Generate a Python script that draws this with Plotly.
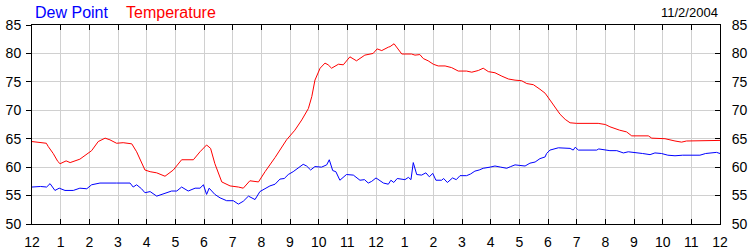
import plotly.graph_objects as go

temp_hours = [0.0, 0.3, 0.5, 0.57, 0.74, 0.9, 0.98, 1.19, 1.33, 1.67, 1.85, 2.08, 2.31, 2.55, 2.72, 2.95,
              3.18, 3.48, 3.65, 3.94, 4.12, 4.35, 4.64, 4.93, 5.22, 5.63, 5.86, 6.09, 6.23, 6.38, 6.62,
              6.91, 7.2, 7.37, 7.6, 7.9, 8.13, 8.3, 8.48, 8.88, 9.17, 9.41, 9.64, 9.76, 9.87, 10.05,
              10.22, 10.33, 10.45, 10.69, 10.86, 11.09, 11.32, 11.61, 11.9, 12.04, 12.2, 12.43, 12.49,
              12.63, 12.75, 12.9, 13.24, 13.36, 13.53, 13.65, 13.82, 14.0, 14.17, 14.41, 14.64, 14.87,
              15.16, 15.34, 15.57, 15.74, 15.92, 16.15, 16.39, 16.62, 16.85, 17.08, 17.26, 17.49, 17.72,
              17.9, 18.07, 18.25, 18.42, 18.6, 18.77, 19.0, 19.75, 20.0, 20.16, 20.5, 20.74, 20.92,
              21.5, 21.62, 22.08, 22.43, 22.66, 22.83, 23.36, 23.5, 24.0]
temp_values = [64.5, 64.4, 64.2, 63.6, 62.4, 61.0, 60.6, 61.1, 60.8, 61.4, 62.1, 62.9, 64.5, 65.1, 64.8, 64.2,
               64.3, 64.1, 62.7, 59.5, 59.2, 59.0, 58.4, 59.5, 61.3, 61.3, 62.7, 63.9, 63.3, 60.6, 57.4,
               56.7, 56.5, 56.3, 57.6, 57.4, 59.2, 60.4, 61.7, 64.8, 66.5, 68.3, 70.3, 72.4, 75.3, 77.4,
               78.3, 78.0, 77.4, 78.1, 78.0, 79.4, 78.7, 79.7, 80.0, 80.8, 80.5, 81.1, 81.2,
               81.7, 80.9, 79.9, 79.9, 79.7, 79.8, 79.1, 78.7, 78.1, 77.8, 77.8, 77.5, 76.9,
               76.9, 76.7, 77.0, 77.4, 76.8, 76.6, 76.0, 75.5, 75.3, 75.2, 74.7, 74.5, 73.7,
               73.0, 71.8, 70.6, 69.3, 68.4, 67.8, 67.7, 67.7, 67.5, 67.1, 66.5, 66.2, 65.5,
               65.5, 65.1, 65.0, 64.6, 64.4, 64.6, 64.6, 64.7, 64.7]

dew_hours = [0.0, 0.3, 0.51, 0.63, 0.8, 0.95, 1.15, 1.44, 1.67, 1.91, 2.08, 2.37, 2.95, 3.42, 3.53, 3.65,
             3.82, 3.94, 4.12, 4.35, 4.64, 4.87, 5.05, 5.22, 5.45, 5.69, 5.86, 5.98, 6.09, 6.18, 6.38,
             6.56, 6.79, 7.02, 7.2, 7.37, 7.55, 7.78, 7.95, 8.18, 8.3, 8.48, 8.65, 8.8, 8.94, 9.11,
             9.29, 9.46, 9.58, 9.72, 9.87, 10.1, 10.28, 10.37, 10.49, 10.6, 10.74, 10.97, 11.21, 11.44,
             11.6, 11.73, 11.85, 12.0, 12.26, 12.43, 12.52, 12.62, 12.74, 13.01, 13.13, 13.22, 13.3,
             13.42, 13.59, 13.74, 13.86, 13.98, 14.09, 14.29, 14.36, 14.49, 14.67, 14.8, 14.93, 15.16,
             15.3, 15.45, 15.6, 15.74, 15.98, 16.15, 16.35, 16.56, 16.7, 16.85, 17.02, 17.2, 17.37,
             17.55, 17.72, 17.9, 17.95, 18.07, 18.36, 18.6, 18.77, 18.88, 18.95, 19.06, 19.7, 19.77,
             20.16, 20.4, 20.63, 20.8, 21.03, 21.3, 21.56, 21.73, 21.96, 22.18, 22.43, 22.7, 23.3,
             23.5, 23.88, 24.0]
dew_values = [56.5, 56.6, 56.5, 57.1, 55.9, 56.3, 55.9, 55.9, 56.3, 56.2, 56.9, 57.2, 57.2, 57.2, 56.5, 56.9,
              56.2, 55.5, 55.7, 54.9, 55.4, 55.8, 55.8, 56.5, 55.8, 56.3, 56.3, 56.9, 55.2, 56.3, 55.2,
              54.6, 54.1, 54.1, 53.5, 54.0, 54.9, 54.3, 55.7, 56.3, 56.7, 57.0, 57.9, 58.0, 58.7, 59.2,
              59.9, 60.5, 60.2, 59.5, 60.1, 60.0, 60.4, 61.3, 59.4, 59.2, 57.7, 58.7, 58.6, 57.7,
              57.8, 57.2, 57.5, 58.1, 57.2, 57.0, 57.7, 57.3, 58.0, 57.8, 58.2, 57.8, 60.8,
              58.7, 58.6, 59.0, 58.3, 58.9, 57.7, 57.7, 58.0, 57.3, 58.1, 57.8, 58.5, 58.5,
              58.8, 59.3, 59.5, 59.8, 60.0, 60.2, 60.0, 59.8, 60.1, 60.4, 60.3, 60.2, 60.7,
              60.9, 61.5, 61.8, 62.4, 63.0, 63.4, 63.3, 63.3, 63.0, 63.5, 63.0, 63.0, 63.2,
              62.9, 62.9, 62.5, 62.7, 62.6, 62.4, 62.2, 62.5, 62.4, 62.1, 62.0, 62.1, 62.1,
              62.4, 62.6, 62.4]

x_tick_vals = list(range(0, 25))
x_tick_text = ["12", "1", "2", "3", "4", "5", "6", "7", "8", "9", "10", "11",
               "12", "1", "2", "3", "4", "5", "6", "7", "8", "9", "10", "11", "12"]
y_tick_vals = [50, 55, 60, 65, 70, 75, 80, 85]
date_label = "11/2/2004"

FONT = "Liberation Sans, Arial, sans-serif"

fig = go.Figure()
fig.add_trace(go.Scatter(x=dew_hours, y=dew_values, mode="lines", name="Dew Point",
                         line=dict(color="#0000ff", width=1), showlegend=False))
fig.add_trace(go.Scatter(x=temp_hours, y=temp_values, mode="lines", name="Temperature",
                         line=dict(color="#ff0000", width=1), showlegend=False))
# invisible trace to activate right axis
fig.add_trace(go.Scatter(x=[0], y=[50], yaxis="y2", mode="markers",
                         marker=dict(opacity=0), showlegend=False, hoverinfo="skip"))

axis_common = dict(gridcolor="#d0d0d0", gridwidth=1, showline=True, automargin=False,
                   linecolor="black", linewidth=1, tickcolor="black", ticklen=5,
                   tickfont=dict(family=FONT, size=14, color="black"), zeroline=False)

fig.update_layout(
    width=750, height=250,
    margin=dict(l=32, r=30, t=25, b=26),
    paper_bgcolor="white", plot_bgcolor="white",
    xaxis=dict(range=[0, 24], tickmode="array", tickvals=x_tick_vals, ticktext=x_tick_text,
               ticks="inside", mirror="ticks", showgrid=True, ticklabelstandoff=5, **axis_common),
    yaxis=dict(range=[50, 85], tickmode="array", tickvals=y_tick_vals,
               ticks="outside", showgrid=True, ticklabelstandoff=2, **axis_common),
    yaxis2=dict(range=[50, 85], tickmode="array", tickvals=y_tick_vals, overlaying="y",
                side="right", ticks="inside", showgrid=False, ticklabelstandoff=8, **axis_common),
)

pw = 750 - 32 - 30
ph = 250 - 25 - 26
def px_to_paper_x(px):
    return (px - 32) / pw
def px_to_paper_y(py):
    return (250 - 26 - py) / ph

fig.add_annotation(text="Dew Point", x=px_to_paper_x(33), y=px_to_paper_y(12), xref="paper", yref="paper",
                   xanchor="left", yanchor="middle", showarrow=False,
                   font=dict(family=FONT, size=16, color="#0000ff"))
fig.add_annotation(text="Temperature", x=px_to_paper_x(124), y=px_to_paper_y(12), xref="paper", yref="paper",
                   xanchor="left", yanchor="middle", showarrow=False,
                   font=dict(family=FONT, size=16, color="#ff0000"))
fig.add_annotation(text=date_label, x=px_to_paper_x(720), y=px_to_paper_y(13), xref="paper", yref="paper",
                   xanchor="right", yanchor="middle", showarrow=False,
                   font=dict(family=FONT, size=13, color="black"))

fig.write_html("out.html")
